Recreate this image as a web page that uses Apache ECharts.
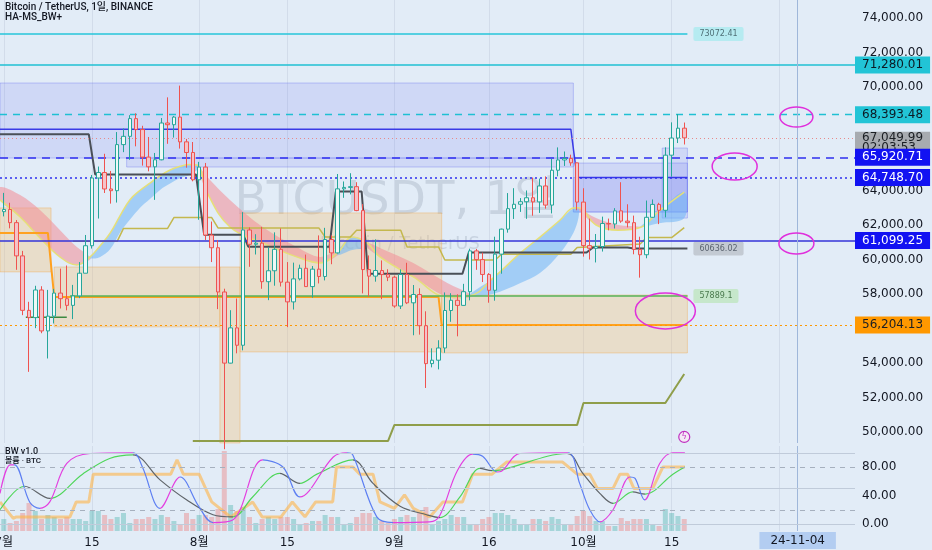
<!DOCTYPE html>
<html><head><meta charset="utf-8">
<script src="https://cdn.jsdelivr.net/npm/echarts@6/dist/echarts.min.js"></script>
<style>html,body{margin:0;padding:0;background:#e2ecf7;}#c{width:932px;height:550px;}</style>
</head><body><div id="c"></div>
<script>
const FONT = '"DejaVu Sans", "Noto Sans CJK KR", sans-serif';

// Daily candles BTCUSDT, day 0 = 2024-07-01 : [open, high, low, close]
const ohlc = [
[62772,63861,62497,62899],[62899,63288,61806,62135],[62135,62285,59400,60208],[60208,60498,56771,57050],[57050,57546,53485,56628],
[56628,58475,56018,58231],[58231,58449,55724,55857],[55857,58236,54260,56714],[56714,58296,56289,58051],[58051,59470,57157,57725],
[57725,59650,57050,57339],[57339,58526,56542,57889],[57889,59850,57756,59204],[59204,61420,59204,60797],[60797,64900,60632,64724],
[64724,65388,62373,65043],[65043,66128,63854,64087],[64087,65133,63238,63987],[63987,67386,63300,66660],[66660,67598,66222,67139],
[67139,68366,65777,68165],[68165,68474,66559,67532],[67532,67750,65441,65936],[65936,67102,65111,65372],[65372,66175,63456,65778],
[65778,68200,65750,67912],[67912,69399,66705,67813],[67813,68318,67066,68255],[68255,70079,66429,66819],[66819,66987,65323,66202],
[66202,66810,64530,64619],[64619,65659,62302,65357],[65357,65596,61130,61415],[61415,62198,59850,60680],[60680,61117,57122,58116],
[58116,58305,49000,53991],[53991,57059,53973,56034],[56034,57736,54559,55027],[55027,62745,54731,61710],[61710,61858,59575,60880],
[60880,61464,60288,60946],[60946,61888,58300,58712],[58712,60712,57642,59346],[59346,61572,58478,60588],[60588,61800,58433,58685],
[58685,59849,56078,57541],[57541,59817,57098,58874],[58874,59700,58785,59491],[59491,60284,58408,58427],[58427,59618,57787,59439],
[59439,61396,58610,59014],[59014,61834,58787,61157],[61157,61400,59724,60381],[60381,64955,60345,64094],[64094,64522,63574,64178],
[64178,65000,63773,64220],[64220,64480,62800,62834],[62834,63212,58034,59415],[59415,60234,57860,59034],[59034,61166,58713,59359],
[59359,59944,57700,59123],[59123,59432,58745,58973],[58973,59063,57201,57301],[57301,59425,57128,59132],[59132,59809,57415,57487],
[57487,58520,55606,57970],[57970,58327,55643,56160],[56160,56995,52550,53962],[53962,54850,53745,54160],[54160,55318,53629,54869],
[54869,58088,54591,57042],[57042,58044,56386,57635],[57635,57981,55545,57338],[57338,58588,57324,58132],[58132,60625,57632,60498],
[60498,60610,59400,59993],[59993,60395,58692,59132],[59132,59210,57493,58213],[58213,61320,57610,60309],[60309,61786,59174,61759],
[61759,63850,61555,62947],[62947,64133,62350,63201],[63201,63559,62758,63348],[63348,64000,62357,63578],[63578,64745,62538,63339],
[63339,64688,62700,64262],[64262,64817,62947,63152],[63152,65839,62670,65173],[65173,66498,64819,65769],[65769,66260,65422,65858],
[65858,66076,65432,65602],[65602,65618,62856,63327],[63327,64130,60164,60805],[60805,62370,59996,60649],[60649,61477,59828,60752],
[60752,62484,60459,62086],[62086,62370,61689,62058],[62058,62975,61798,62819],[62819,64478,62128,62224],[62224,63200,61860,62134],
[62134,62543,60301,60582],[60582,61320,58946,60274],[60274,63417,60070,62445],[62445,63480,62421,63193],[63193,63285,62050,62851],
[62851,66500,62443,66046],[66046,67950,64800,67041],[67041,68424,66750,67612],[67612,67939,66666,67050]
];
// relative volume (pane units)
const volumes = [
12,8,10,18,28,20,12,16,14,12, 14,12,12,10,20,20,16,12,14,18, 8,12,12,14,12,16,14,10,6,18,
12,16,16,14,22,80,26,20,24,14, 8,12,14,12,14,14,12,6,8,10, 10,16,14,14,6,8,14,18,18,14,
10,8,12,14,16,14,18,24,6,10, 12,16,14,14,6,6,12,14,18,18, 16,12,6,6,12,12,10,14,12,6,
6,15,20,15,10,10,5,5,13,10, 12,12,12,6,5,22,18,15,12
];

const xTickDays = [0, 14, 31, 45, 62, 77, 92, 106];
const xTickLabels = ['7월', '15', '8월', '15', '9월', '16', '10월', '15'];
const xGridDays = [0, 14, 31, 45, 62, 77, 92, 106, 123];
const priceTicks = [50000, 52000, 54000, 58000, 60000, 62000, 64000, 70000, 72000, 74000];
const oscTicks = [0, 40, 80];
const oscLevels = [100, 80, 50, 20, 0];
const crossDay = 126;
const crossLabel = '24-11-04';
const countdown = '02:03:53';

// horizontal price levels with axis tags
const priceLevels = [71280.01, 68393.48, 67049.99, 65920.71, 64748.70, 61099.25, 56204.13];

// zones: [startDay, endDay, topPrice, bottomPrice]
const tanZones = [[-0.6,7.5,62990,59280],[8,34.3,59565,56090],[34.3,37.5,59565,49360],[37.5,69.5,62700,54640],[69.5,108.5,57940,54580]];
const blueZones = [[-0.6,90.4,70230,65880],[19.5,90.4,65880,65360],[90.4,108.5,65590,62750],[90.4,108.5,64750,62750],[104.5,108.5,66460,62400]];

// moving-average ribbons: [day, upper, lower]
const redBand1 = [[-0.6,64200,63450],[2.6,63740,62460],[5.75,62870,61250],[8.9,61710,60150],[11.6,60720,59680],[13.7,60150,60000]];
const blueBand1 = [[13.7,60150,60050],[15.3,60800,60150],[16.9,61540,60600],[18.4,62500,61540],[20,63450,62300],[21.6,64000,62990],[23.2,64430,63500],[24.8,64850,64030],[26.4,65190,64400],[28,65400,64720],[29.5,65500,64900],[30.8,65450,65250]];
const redBand2 = [[30.8,65450,65250],[32.3,64780,63860],[35.9,63450,61880],[41.1,61880,60960],[46.5,60730,60150],[50.2,60150,59800],[53,60500,60250]];
const blueBand2 = [[53,60500,60250],[55.3,61300,60550],[57.7,60950,60700]];
const redBand3 = [[57.7,60950,60700],[59.7,60670,60145],[65,59800,58990],[70.4,58640,57830],[74,58000,57800]];
const blueBand3 = [[74,58000,57850],[77.6,58900,58000],[82,60380,58640],[85.1,61300,59220],[88.3,62290,60380],[90.4,62990,61540],[91.2,63000,62400]];
const redBand4 = [[91.2,63000,62900],[94,62400,62000],[97.5,62000,61700],[101,61900,61850]];
const blueBand4 = [[101,61900,61850],[104,62800,62100],[108,63900,62400]];

const yellowLine = [[-0.6,63450],[2.6,62460],[5.75,61250],[8.9,60150],[11.6,59680],[13.7,60150],[15.3,60800],[16.9,61540],[18.4,62500],[20,63450],[21.6,64000],[23.2,64430],[24.8,64850],[26.4,65190],[28,65400],[29.5,65500],[30.8,65450],[32.3,63860],[35.9,61880],[41.1,60960],[46.5,60150],[50.2,59800],[53,60400],[55.3,61300],[57.7,60950],[59.7,60145],[65,58990],[70.4,57830],[74,57900],[77.6,58900],[82,60380],[85.1,61300],[88.3,62290],[90.4,62990],[91.2,63000],[94,62000],[97.5,61700],[101,61850],[104,62800],[108,63900]];
const oliveStep = [[11,61050],[18,61050],[19,61800],[26,61800],[27,62430],[33,62430],[34,61830],[50,61830],[51,61300],[55,61300],[56,61700],[63,61700],[64,60730],[69,60730],[70,59970],[78,59970],[79,60300],[90,60300],[91,60700],[101,60900],[102,61270],[106,61270],[108,61850]];
const supportStep = [[30,49480],[61,49480],[62,50410],[91,50410],[92,51680],[105,51680],[108,53360]];
const orangeStep = [[-0.6,61540],[7,61540],[8,57830],[69,57830],[69.5,56204],[108.5,56204]];
const greenLevel = [[10.5,57889.1],[108.5,57889.1]];
const greenShort = [[3.5,56650],[10,56650]];
const trendStop = [[-0.6,67256],[13.5,67256],[14.5,64930],[30.5,64930],[31.8,61440],[38,61440],[38.8,60740],[51.7,60740],[52.7,63940],[56.8,63940],[57.8,59170],[72.8,59170],[73.8,60400],[92.5,60400],[93.5,60700],[99,60700],[100,60636.02],[108.5,60636.02]];
const blueStep = [[-0.6,67550],[90,67550],[91,64748.7],[108.5,64748.7]];
const topLevel = [[-0.6,73072.41],[108.5,73072.41]];

// oscillator (BW v1.0): [day, value]
const kLine = [[-0.6,43],[1,83],[1.7,83],[4.1,31],[5.7,22],[7.3,31],[10,85],[13.7,99],[20.5,100],[22,80],[24.8,22],[28,66],[31,24],[33.2,2],[36.4,6],[41.1,90],[44.3,80],[47,38],[52.3,94],[54.4,100],[55.4,97],[59.2,10],[61.8,2],[67.6,3],[69.2,12],[72,75],[74.4,98],[76,95],[78.3,73],[79,74],[81.9,99],[89.5,100],[91.4,57],[93,20],[94.6,3],[96.7,20],[99.4,66],[100.2,64],[101.7,34],[104.1,85],[106.2,100],[108.1,100]];
const dLine = [[-0.6,20],[3.3,53],[7.3,36],[12.5,70],[16.8,92],[20.5,97],[24.8,62],[29,34],[33.2,13],[36.4,10],[39.5,38],[43.8,71],[47,57],[49.7,70],[55.4,90],[58.6,57],[62.9,25],[67.1,13],[69.2,9],[72.4,38],[75.6,78],[77.5,75],[79,76],[89.4,99],[91.9,71],[94.6,43],[96.7,29],[99.8,45],[101.8,42],[106.2,70],[108.1,80]];
const oscOrange = [[-0.6,31],[1.5,8],[2,10],[10.5,10],[11.5,31],[13.5,31],[14.2,70],[26.5,70],[27.5,90],[28.5,70],[31,70],[33,31],[36,10],[39.5,31],[41,10],[44,10],[45.8,31],[47.8,10],[49.5,31],[52.2,31],[52.8,80],[55.4,80],[56.5,70],[58.6,70],[59.7,31],[62,22],[63.6,41],[65,22],[67.6,10],[69.7,31],[72.8,31],[74.4,70],[77.5,70],[79.8,87],[88.7,87],[91,70],[93,70],[94.2,50],[96.7,50],[97.8,70],[99,70],[100,50],[103,50],[104.6,80],[108.1,80]];

// hand-drawn annotation ellipses: [day, price, rx, ry]
const annotations = [[125.8,68260,16.5,10],[116.0,65390,22.5,13.5],[125.8,60930,17.5,10.5],[105,57014,30,18]];
const alertIcon = [108, 49710];

// ---------- build ----------
const fmt2 = v => Number(v).toLocaleString('en-US', {minimumFractionDigits: 2, maximumFractionDigits: 2});
const candleData = ohlc.map((d, i) => [i, d[0], d[3], d[2], d[1]]);
const volData = volumes.map((v, i) => ({value: [i, v], itemStyle: {color: ohlc[i][3] >= ohlc[i][0] ? 'rgba(38,166,154,0.32)' : 'rgba(239,83,80,0.30)'}}));

const levelStyles = [
  {line: {color: '#1fc0d3', type: 'solid', width: 1.5}, bg: '#22c4d6', fg: '#0c1a24'},
  {line: {color: '#1fc0d3', type: [7, 6], width: 1.3}, bg: '#22c4d6', fg: '#0c1a24'},
  {line: {color: '#e88a8a', type: [1, 3], width: 1}, bg: '#a7abb0', fg: '#1b1f24', extra: countdown},
  {line: {color: '#2f2ff0', type: [8, 6], width: 1.5}, bg: '#1212f2', fg: '#ffffff'},
  {line: {color: '#2f2ff0', type: [2, 3], width: 1.5}, bg: '#1212f2', fg: '#ffffff'},
  {line: {color: '#3434d8', type: 'solid', width: 1.5}, bg: '#1212f2', fg: '#ffffff'},
  {line: {color: '#ff9800', type: [2, 3], width: 1}, bg: '#ff9800', fg: '#1b1f24'}
];
const mainMarkLines = priceLevels.map((v, i) => {
  const s = levelStyles[i];
  return {
    yAxis: v, lineStyle: s.line,
    label: {show: true, position: 'end', distance: 0, formatter: s.extra ? fmt2(v) + '\n' + s.extra : fmt2(v),
      backgroundColor: s.bg, color: s.fg, fontSize: 12, fontFamily: FONT,
      padding: s.extra ? [1, 7, 1, 7] : [2, 7, 2, 7], lineHeight: s.extra ? 10 : 13,
      offset: s.extra ? [0, 5] : [0, 0]}
  };
});
mainMarkLines.push({xAxis: crossDay, lineStyle: {color: '#9fb7da', type: 'solid', width: 1}, label: {show: false}});

function zoneSeries(zones, fill, stroke) {
  return {
    type: 'custom', xAxisIndex: 0, yAxisIndex: 0, silent: true, z: 1,
    data: zones,
    renderItem: (params, api) => {
      const p0 = api.coord([api.value(0), api.value(2)]);
      const p1 = api.coord([api.value(1), api.value(3)]);
      return {type: 'rect', shape: {x: p0[0], y: p0[1], width: p1[0] - p0[0], height: p1[1] - p0[1]},
        style: {fill: fill, stroke: stroke, lineWidth: 1}};
    }
  };
}
function bandSeries(band, color) {
  return {
    type: 'custom', xAxisIndex: 0, yAxisIndex: 0, silent: true, z: 2,
    data: band,
    renderItem: (params, api) => {
      if (params.dataIndex !== 0) return null;
      const up = band.map(p => api.coord([p[0], p[1]]));
      const lo = band.map(p => api.coord([p[0], p[2]])).reverse();
      return {type: 'polygon', shape: {points: up.concat(lo), smooth: 0.35}, style: {fill: color}};
    }
  };
}
function mainLine(data, color, width, extra) {
  return Object.assign({type: 'line', xAxisIndex: 0, yAxisIndex: 0, data: data, symbol: 'none', silent: true, z: 3,
    lineStyle: {color: color, width: width}}, extra || {});
}
function tagLabel(text, bg, fg) {
  return {show: true, formatter: text, backgroundColor: bg, color: fg, fontSize: 8, fontFamily: FONT, padding: [3, 6], distance: 6, borderRadius: 2};
}
const RED = 'rgba(242,140,150,0.55)', BLUE = 'rgba(110,180,245,0.55)';

const series = [
  zoneSeries(tanZones, 'rgba(246,190,110,0.32)', 'rgba(240,160,60,0.35)'),
  zoneSeries(blueZones, 'rgba(110,120,245,0.17)', 'rgba(100,110,240,0.35)'),
  bandSeries(redBand1, RED), bandSeries(blueBand1, BLUE), bandSeries(redBand2, RED),
  bandSeries(blueBand2, BLUE), bandSeries(redBand3, RED), bandSeries(blueBand3, BLUE),
  bandSeries(redBand4, RED), bandSeries(blueBand4, BLUE),
  mainLine(yellowLine, '#e6df78', 1.5, {smooth: 0.4}),
  mainLine(oliveStep, '#c4b84e', 1.5),
  mainLine(supportStep, '#8f9e4a', 2),
  mainLine(orangeStep, '#ffa11f', 2),
  mainLine(greenShort, '#3c8a40', 1.5),
  mainLine(greenLevel, '#56b35a', 1.5, {endLabel: tagLabel('57889.1', '#c6e7cb', '#4a7a4e')}),
  mainLine(trendStop, '#4a4f57', 2, {endLabel: tagLabel('60636.02', '#c3cad3', '#5b6470')}),
  mainLine(blueStep, '#3a3ae6', 1.5),
  mainLine(topLevel, '#26c6da', 1.5, {endLabel: tagLabel('73072.41', '#b6ebf1', '#4f7077')}),
  {
    type: 'candlestick', xAxisIndex: 0, yAxisIndex: 0, data: candleData, encode: {x: 0, y: [1, 2, 3, 4]},
    barWidth: 4, z: 5, silent: true,
    itemStyle: {color: '#eef8f6', color0: '#f4c3c8', borderColor: '#26a69a', borderColor0: '#ef5350', borderWidth: 1},
    markLine: {symbol: ['none', 'none'], silent: true, animation: false, data: mainMarkLines}
  },
  {
    type: 'bar', xAxisIndex: 1, yAxisIndex: 2, data: volData, barWidth: 5, silent: true, z: 1,
    markLine: {symbol: ['none', 'none'], silent: true, animation: false,
      data: [{xAxis: crossDay, lineStyle: {color: '#9fb7da', type: 'solid', width: 1},
        label: {show: true, position: 'start', distance: 1, formatter: crossLabel, backgroundColor: '#b3cdf1', color: '#131722', fontSize: 12, fontFamily: FONT, padding: [3, 11, 2, 11]}}]}
  },
  {
    type: 'line', xAxisIndex: 1, yAxisIndex: 1, data: oscOrange, symbol: 'none', silent: true, z: 2,
    lineStyle: {color: 'rgba(255,180,70,0.6)', width: 3},
    markLine: {symbol: ['none', 'none'], silent: true, animation: false, label: {show: false},
      data: oscLevels.map(v => ({yAxis: v, lineStyle: {color: (v === 80 || v === 20) ? '#a6b0be' : '#c0cbda', type: (v === 80 || v === 20) ? [5, 5] : 'solid', width: 1}}))}
  },
  {type: 'line', xAxisIndex: 1, yAxisIndex: 1, data: dLine, symbol: 'none', smooth: 0.35, silent: true, z: 3, lineStyle: {width: 1.2}},
  {type: 'line', xAxisIndex: 1, yAxisIndex: 1, data: kLine, symbol: 'none', smooth: 0.35, silent: true, z: 4, lineStyle: {width: 1.2}}
];
const dIdx = series.length - 2, kIdx = series.length - 1;
function slopePieces(pts, up, down) {
  const pieces = [];
  for (let i = 0; i < pts.length - 1; i++) {
    const p = {gte: pts[i][0], color: pts[i + 1][1] >= pts[i][1] ? up : down};
    if (i === pts.length - 2) p.lte = pts[i + 1][0] + 1; else p.lt = pts[i + 1][0];
    pieces.push(p);
  }
  return pieces;
}

const xBase = {type: 'value', min: -0.6, max: 135.1, axisLine: {show: false},
  splitLine: {show: true, lineStyle: {color: '#d2dcea', width: 1}}};

const option = {
  animation: false,
  backgroundColor: '#e2ecf7',
  textStyle: {fontFamily: FONT},
  grid: [
    {left: 0, top: 0, width: 855, height: 443, containLabel: false, outerBoundsMode: 'none'},
    {left: 0, top: 446, width: 855, height: 85, containLabel: false, outerBoundsMode: 'none'}
  ],
  xAxis: [
    Object.assign({}, xBase, {gridIndex: 0, axisTick: {show: false, customValues: xGridDays}, axisLabel: {show: false, customValues: xGridDays}}),
    Object.assign({}, xBase, {gridIndex: 1, axisTick: {show: false, customValues: xGridDays},
      axisLabel: {show: true, customValues: xTickDays, margin: 6, fontSize: 12, color: '#131722', fontFamily: FONT,
        formatter: v => { const i = xTickDays.indexOf(Math.round(v)); return i >= 0 ? xTickLabels[i] : ''; }}})
  ],
  yAxis: [
    {gridIndex: 0, type: 'value', position: 'right', min: 49360, max: 75043, splitLine: {show: false}, axisLine: {show: false}, axisTick: {show: false},
      axisLabel: {customValues: priceTicks, formatter: v => fmt2(v), margin: 7, fontSize: 12, color: '#131722', fontFamily: FONT}},
    {gridIndex: 1, type: 'value', position: 'right', min: -9.8, max: 109.5, splitLine: {show: false}, axisLine: {show: false}, axisTick: {show: false},
      axisLabel: {customValues: oscTicks, formatter: v => Number(v).toFixed(2), margin: 7, fontSize: 12, color: '#131722', fontFamily: FONT}},
    {gridIndex: 1, type: 'value', min: 0, max: 85, show: false}
  ],
  visualMap: [
    {type: 'piecewise', show: false, seriesIndex: kIdx, dimension: 0, pieces: slopePieces(kLine, '#e33fe0', '#5d7ff2')},
    {type: 'piecewise', show: false, seriesIndex: dIdx, dimension: 0, pieces: slopePieces(dLine, '#4fd65a', '#5f6469')}
  ],
  series: series,
  graphic: [
    {type: 'text', x: 396, y: 202, z: 0, silent: true, style: {text: 'BTCUSDT, 1일', fontSize: 47, fontFamily: FONT, fill: 'rgba(110,122,145,0.22)', align: 'center', verticalAlign: 'middle'}},
    {type: 'text', x: 400, y: 244, z: 0, silent: true, style: {text: 'Bitcoin / TetherUS', fontSize: 18, fontFamily: FONT, fill: 'rgba(110,122,145,0.22)', align: 'center', verticalAlign: 'middle'}},
    {type: 'text', x: 5, y: 3, z: 50, silent: true, style: {text: 'Bitcoin / TetherUS, 1일, BINANCE', fontSize: 10, fontWeight: 500, fontFamily: 'Roboto, "Noto Sans CJK KR"', fill: '#131722'}},
    {type: 'text', x: 5, y: 13, z: 50, silent: true, style: {text: 'HA-MS_BW+', fontSize: 10, fontWeight: 500, fontFamily: 'Roboto, "Noto Sans CJK KR"', fill: '#131722'}},
    {type: 'text', x: 5, y: 447, z: 50, silent: true, style: {text: 'BW v1.0', fontSize: 9, fontWeight: 500, fontFamily: 'Roboto, "Noto Sans CJK KR"', fill: '#131722'}},
    {type: 'text', x: 5, y: 457, z: 50, silent: true, style: {text: '볼륨 · BTC', fontSize: 8, fontWeight: 500, fontFamily: 'Roboto, "Noto Sans CJK KR"', fill: '#131722'}}
  ]
};

const chart = echarts.init(document.getElementById('c'), null, {renderer: 'canvas'});
chart.setOption(option);

const extra = annotations.map(a => {
  const p = chart.convertToPixel({xAxisIndex: 0, yAxisIndex: 0}, [a[0], a[1]]);
  return {type: 'ellipse', z: 100, silent: true, shape: {cx: p[0], cy: p[1], rx: a[2], ry: a[3]}, style: {fill: 'none', stroke: '#e030dc', lineWidth: 1.5}};
});
const ip = chart.convertToPixel({xAxisIndex: 0, yAxisIndex: 0}, alertIcon);
extra.push({type: 'circle', z: 100, silent: true, shape: {cx: ip[0], cy: ip[1], r: 5.5}, style: {fill: '#f4eaf6', stroke: '#c030c0', lineWidth: 1.2}});
extra.push({type: 'text', z: 101, silent: true, x: ip[0], y: ip[1], style: {text: 'ϟ', fontSize: 8, fill: '#c030c0', align: 'center', verticalAlign: 'middle', fontFamily: FONT}});
chart.setOption({graphic: option.graphic.concat(extra)});
</script></body></html>
